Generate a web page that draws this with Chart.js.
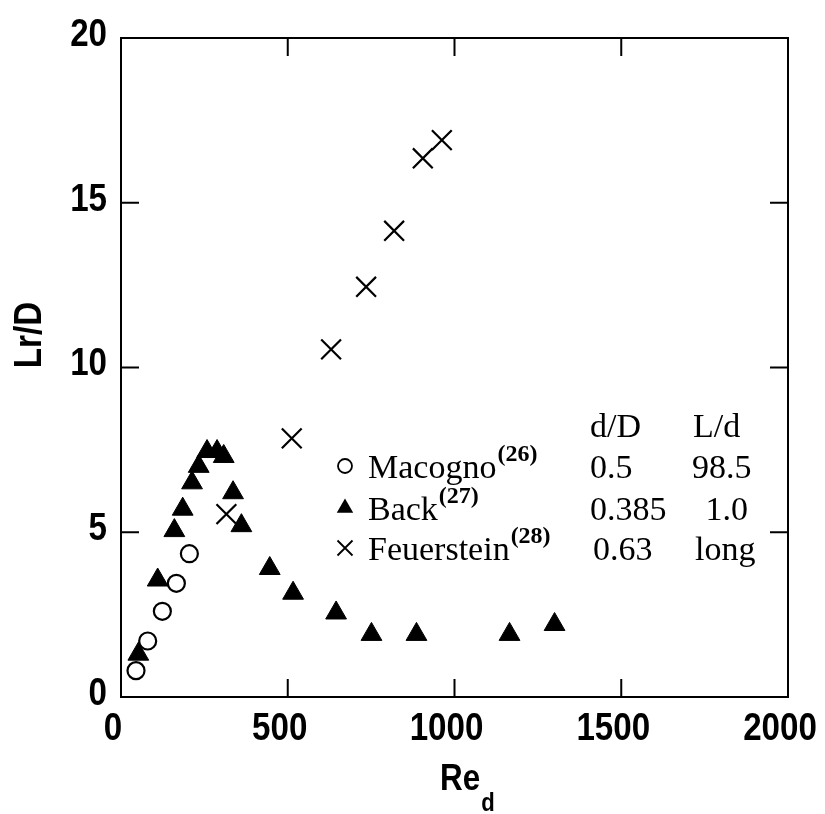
<!DOCTYPE html>
<html>
<head>
<meta charset="utf-8">
<script src="https://cdn.jsdelivr.net/npm/chart.js@4.4.1/dist/chart.umd.min.js"></script>
<style>
  body { margin: 0; background: #fff; }
  #wrap { width: 825px; height: 814px; position: relative; }
</style>
</head>
<body>
<div id="wrap"><canvas id="chart"></canvas></div>
<script>
// Re_d and Lr/D
var macognoRe = [45, 80, 124, 166, 205];
var macognoLr = [0.8, 1.7, 2.6, 3.45, 4.35];

var backRe = [52, 110, 160, 185, 213, 233, 258, 288, 308, 336, 361, 446, 516, 645, 751, 886, 1165, 1300];
var backLr = [1.3, 3.55, 5.05, 5.7, 6.5, 7.0, 7.45, 7.45, 7.3, 6.2, 5.2, 3.9, 3.15, 2.55, 1.9, 1.9, 1.9, 2.2];

var feuRe = [316, 512, 630, 735, 819, 905, 962];
var feuLr = [5.55, 7.85, 10.55, 12.45, 14.15, 16.35, 16.9];

var xTicks = [0, 500, 1000, 1500, 2000];
var yTicks = [0, 5, 10, 15, 20];

// legend table
var legendNames = ['Macogno', 'Back', 'Feuerstein'];
var legendRefs = ['(26)', '(27)', '(28)'];
var legendDD = ['0.5', '0.385', '0.63'];
var legendLd = ['98.5', '1.0', 'long'];

var sansFont = '"Liberation Sans", Arial, sans-serif';
var serifFont = '"Liberation Serif", "DejaVu Serif", serif';
var squeeze = 0.85;

function toPoints(xs, ys) {
    var pts = [];
    for (var i = 0; i < xs.length; i++) {
        pts.push({ x: xs[i], y: ys[i] });
    }
    return pts;
}

// narrow bold text, like the condensed face in the scan
function narrowText(ctx, text, x, y, size, align) {
    ctx.save();
    ctx.font = 'bold ' + size + 'px ' + sansFont;
    ctx.textBaseline = 'middle';
    var w = ctx.measureText(text).width * squeeze;
    var left = x;
    if (align == 'center') left = x - w / 2;
    if (align == 'right') left = x - w;
    ctx.translate(left, y);
    ctx.scale(squeeze, 1);
    ctx.textAlign = 'left';
    ctx.fillText(text, 0, 0);
    ctx.restore();
    return w;
}

function drawMarker(ctx, kind, x, y) {
    ctx.save();
    ctx.strokeStyle = '#000';
    ctx.fillStyle = '#000';
    ctx.lineWidth = 1.8;
    if (kind == 0) {
        ctx.beginPath();
        ctx.arc(x, y, 7, 0, Math.PI * 2);
        ctx.fillStyle = '#fff';
        ctx.fill();
        ctx.stroke();
    } else if (kind == 1) {
        var r = 9.5;
        ctx.beginPath();
        ctx.moveTo(x, y - r);
        ctx.lineTo(x + r * 0.866, y + r * 0.5);
        ctx.lineTo(x - r * 0.866, y + r * 0.5);
        ctx.closePath();
        ctx.fill();
    } else {
        var d = 7.5;
        ctx.beginPath();
        ctx.moveTo(x - d, y - d);
        ctx.lineTo(x + d, y + d);
        ctx.moveTo(x + d, y - d);
        ctx.lineTo(x - d, y + d);
        ctx.stroke();
    }
    ctx.restore();
}

var framePlugin = {
    id: 'frame',
    afterDraw: function (chart) {
        var ctx = chart.ctx;
        var a = chart.chartArea;
        var xs = chart.scales.x;
        var ys = chart.scales.y;
        ctx.save();
        ctx.strokeStyle = '#000';
        ctx.lineWidth = 2;
        ctx.strokeRect(a.left, a.top, a.right - a.left, a.bottom - a.top);

        // inward tick marks on all four sides
        var tl = 18;
        xTicks.slice(1, -1).forEach(function (v) {
            var px = xs.getPixelForValue(v);
            ctx.beginPath();
            ctx.moveTo(px, a.bottom);
            ctx.lineTo(px, a.bottom - tl);
            ctx.moveTo(px, a.top);
            ctx.lineTo(px, a.top + tl);
            ctx.stroke();
        });
        yTicks.slice(1, -1).forEach(function (v) {
            var py = ys.getPixelForValue(v);
            ctx.beginPath();
            ctx.moveTo(a.left, py);
            ctx.lineTo(a.left + tl, py);
            ctx.moveTo(a.right, py);
            ctx.lineTo(a.right - tl, py);
            ctx.stroke();
        });

        // tick labels
        ctx.fillStyle = '#000';
        xs.ticks.forEach(function (t) {
            narrowText(ctx, String(t.value), xs.getPixelForValue(t.value) - 8, a.bottom + 32, 39, 'center');
        });
        ys.ticks.forEach(function (t) {
            narrowText(ctx, String(t.value), a.left - 14, ys.getPixelForValue(t.value) - 3, 39, 'right');
        });

        // axis titles
        var reW = narrowText(ctx, 'Re', 440, 780, 37, 'left');
        narrowText(ctx, 'd', 440 + reW + 1, 804, 26, 'left');

        ctx.save();
        ctx.translate(30, 335);
        ctx.rotate(-Math.PI / 2);
        narrowText(ctx, 'Lr/D', 0, 0, 39, 'center');
        ctx.restore();

        // legend table
        ctx.textBaseline = 'alphabetic';
        ctx.font = '34px ' + serifFont;
        ctx.textAlign = 'left';
        ctx.fillText('d/D', 590, 437);
        ctx.fillText('L/d', 693, 437);
        var rowY = [478, 520, 560];
        for (var i = 0; i < legendNames.length; i++) {
            drawMarker(ctx, i, 345, rowY[i] - 12);
            ctx.font = '34px ' + serifFont;
            ctx.textAlign = 'left';
            ctx.fillText(legendNames[i], 368, rowY[i]);
            var w = ctx.measureText(legendNames[i]).width;
            ctx.font = 'bold 24px ' + serifFont;
            ctx.fillText(legendRefs[i], 368 + w + 1, rowY[i] - 17);
            ctx.font = '34px ' + serifFont;
            ctx.fillText(legendDD[i], i == 2 ? 593 : 590, rowY[i]);
            if (i == 1) {
                ctx.textAlign = 'right';
                ctx.fillText(legendLd[i], 748, rowY[i]);
            } else {
                ctx.fillText(legendLd[i], i == 0 ? 692 : 695, rowY[i]);
            }
        }
        ctx.restore();
    }
};

var ctx = document.getElementById('chart').getContext('2d');
var myChart = new Chart(ctx, {
    type: 'scatter',
    data: {
        datasets: [{
            label: 'Macogno',
            data: toPoints(macognoRe, macognoLr),
            pointStyle: 'circle',
            pointRadius: 8.5,
            borderWidth: 2.2,
            borderColor: '#000',
            backgroundColor: '#fff'
        }, {
            label: 'Back',
            data: toPoints(backRe, backLr),
            pointStyle: 'triangle',
            pointRadius: 12,
            borderWidth: 1,
            borderColor: '#000',
            backgroundColor: '#000'
        }, {
            label: 'Feuerstein',
            data: toPoints(feuRe, feuLr),
            pointStyle: 'crossRot',
            pointRadius: 14,
            borderWidth: 2.2,
            borderColor: '#000',
            backgroundColor: '#000'
        }]
    },
    options: {
        responsive: true,
        maintainAspectRatio: false,
        animation: false,
        layout: { padding: { top: 38, right: 37, left: 0, bottom: 0 } },
        plugins: {
            legend: { display: false },
            tooltip: { enabled: false }
        },
        scales: {
            x: {
                type: 'linear',
                min: 0,
                max: 2000,
                grid: { display: false },
                border: { display: false },
                ticks: { display: false },
                afterBuildTicks: function (scale) {
                    scale.ticks = xTicks.map(function (v) { return { value: v }; });
                },
                afterFit: function (scale) {
                    scale.height = 117;
                    scale.paddingLeft = 0;
                    scale.paddingRight = 0;
                }
            },
            y: {
                type: 'linear',
                min: 0,
                max: 20,
                grid: { display: false },
                border: { display: false },
                ticks: { display: false },
                afterBuildTicks: function (scale) {
                    scale.ticks = yTicks.map(function (v) { return { value: v }; });
                },
                afterFit: function (scale) {
                    scale.width = 121;
                    scale.paddingTop = 0;
                    scale.paddingBottom = 0;
                }
            }
        }
    },
    plugins: [framePlugin]
});
</script>
</body>
</html>
